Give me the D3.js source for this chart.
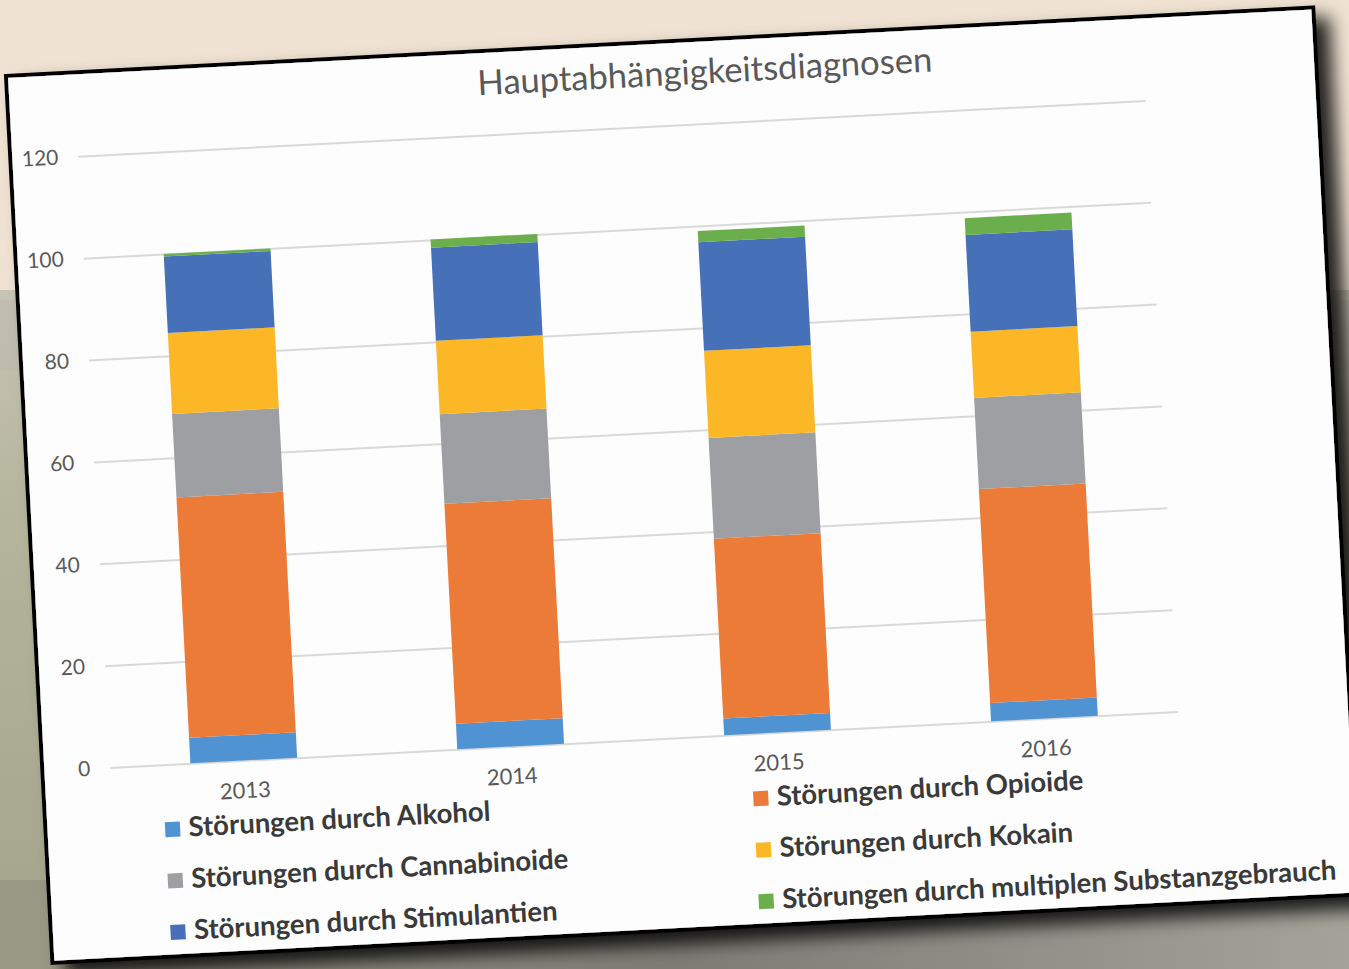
<!DOCTYPE html>
<html>
<head>
<meta charset="utf-8">
<script src="https://cdn.jsdelivr.net/npm/d3@7"></script>
<style>
  body { margin: 0; overflow: hidden; background: #efe2d2; }
</style>
</head>
<body>
<div id="chart"></div>
<script>
// data (percent of main diagnoses)
const years = ['2013', '2014', '2015', '2016'];
const alkohol      = [5.0, 5.0, 3.3, 3.6];
const opioide      = [47.2, 43.2, 35.3, 42.0];
const cannabinoide = [16.4, 17.6, 19.8, 17.9];
const kokain       = [15.9, 14.4, 17.1, 13.0];
const stimulantien = [15.0, 18.3, 21.3, 19.0];
const multipel     = [0.5, 1.6, 2.2, 3.3];
const yTicks = [0, 20, 40, 60, 80, 100, 120];

const seriesNames = [
    'Störungen durch Alkohol',
    'Störungen durch Opioide',
    'Störungen durch Cannabinoide',
    'Störungen durch Kokain',
    'Störungen durch Stimulantien',
    'Störungen durch multiplen Substanzgebrauch'
];
const seriesValues = [alkohol, opioide, cannabinoide, kokain, stimulantien, multipel];
const colors = ['#4f93d3', '#ec7b37', '#9d9fa2', '#fbb726', '#4670b8', '#6aaf4b'];

const W = 1349, H = 969;
const svg = d3.select('#chart').append('svg')
    .attr('width', W)
    .attr('height', H);

var defs = svg.append('defs');

// background photo-ish gradients
var ground = defs.append('linearGradient').attr('id', 'ground')
    .attr('x1', 0).attr('y1', 0).attr('x2', 0).attr('y2', 1);
ground.append('stop').attr('offset', '0%').attr('stop-color', '#c9c5b4');
ground.append('stop').attr('offset', '30%').attr('stop-color', '#b6b69e');
ground.append('stop').attr('offset', '100%').attr('stop-color', '#a3a38c');

var floor = defs.append('linearGradient').attr('id', 'floor')
    .attr('x1', 0).attr('y1', 0).attr('x2', 1).attr('y2', 0);
floor.append('stop').attr('offset', '0%').attr('stop-color', '#9a9a86');
floor.append('stop').attr('offset', '50%').attr('stop-color', '#7d7b74');
floor.append('stop').attr('offset', '100%').attr('stop-color', '#a4a39a');

var shadow = defs.append('filter').attr('id', 'shadow')
    .attr('x', '-5%').attr('y', '-5%').attr('width', '115%').attr('height', '115%');
shadow.append('feDropShadow')
    .attr('dx', 14).attr('dy', 12)
    .attr('stdDeviation', 9)
    .attr('flood-color', '#000')
    .attr('flood-opacity', 0.85);

svg.append('rect').attr('width', W).attr('height', H).attr('fill', '#efe2d2');
svg.append('rect').attr('y', 290).attr('width', W).attr('height', H - 290).attr('fill', 'url(#ground)');
svg.append('rect').attr('y', 300).attr('width', W).attr('height', 70).attr('fill', '#bdb9ad').attr('opacity', 0.6);
svg.append('rect').attr('y', 880).attr('width', W).attr('height', H - 880).attr('fill', 'url(#floor)');

// the card, rotated like in the photo
var card = svg.append('g').attr('transform', 'translate(6,76) rotate(-3)');

card.append('rect')
    .attr('width', 1309)
    .attr('height', 888)
    .attr('fill', '#fdfdfd')
    .attr('stroke', '#000')
    .attr('stroke-width', 4)
    .attr('filter', 'url(#shadow)');

var plot = { left: 68, right: 1137, top: 84, bottom: 696 };

var x = d3.scaleBand()
    .domain(years)
    .range([plot.left, plot.right])
    .paddingInner(0.6)
    .paddingOuter(0.3);

var y = d3.scaleLinear()
    .domain([0, 120])
    .range([plot.bottom, plot.top]);

// title
card.append('text')
    .attr('x', 698)
    .attr('y', 44)
    .attr('text-anchor', 'middle')
    .style('font-family', 'Lato, sans-serif')
    .style('font-size', '34.6px')
    .style('fill', '#595959')
    .text('Hauptabhängigkeitsdiagnosen');

// y axis with gridlines
var yAxis = card.append('g')
    .attr('transform', 'translate(' + plot.left + ',0)')
    .call(d3.axisLeft(y)
        .tickValues(yTicks)
        .tickSize(-(plot.right - plot.left))
        .tickPadding(20));
yAxis.select('.domain').remove();
yAxis.selectAll('.tick line')
    .attr('stroke', '#d9d9d9')
    .attr('stroke-width', 2);
yAxis.selectAll('.tick text')
    .style('font-family', 'Lato, sans-serif')
    .style('font-size', '21px')
    .style('fill', '#595959');

// stacked bars
var rows = years.map(function (yr, i) {
    var r = { year: yr };
    seriesNames.forEach(function (name, k) { r[name] = seriesValues[k][i]; });
    return r;
});
var stacked = d3.stack().keys(seriesNames)(rows);

card.append('g').selectAll('g')
    .data(stacked)
    .join('g')
    .attr('fill', function (d, k) { return colors[k]; })
    .selectAll('rect')
    .data(function (d) { return d; })
    .join('rect')
    .attr('x', function (d) { return x(d.data.year); })
    .attr('y', function (d) { return y(d[1]); })
    .attr('width', x.bandwidth())
    .attr('height', function (d) { return y(d[0]) - y(d[1]); });

// x axis labels
var xAxis = card.append('g')
    .attr('transform', 'translate(0,' + plot.bottom + ')')
    .call(d3.axisBottom(x).tickSize(0).tickPadding(22));
xAxis.select('.domain').remove();
xAxis.selectAll('.tick text')
    .style('font-family', 'Lato, sans-serif')
    .style('font-size', '22px')
    .style('fill', '#595959');

// legend, two columns
var legend = card.append('g').selectAll('g')
    .data(seriesNames)
    .join('g')
    .attr('transform', function (d, i) {
        return 'translate(' + (127 + (i % 2) * 589) + ',' + (761 + Math.floor(i / 2) * 51.5) + ')';
    });

legend.append('rect')
    .attr('x', -7.5)
    .attr('y', -7.5)
    .attr('width', 15)
    .attr('height', 15)
    .attr('fill', function (d, i) { return colors[i]; });

legend.append('text')
    .attr('x', 16)
    .attr('y', 8)
    .style('font-family', 'Lato, sans-serif')
    .style('font-weight', 'bold')
    .style('font-size', '27.5px')
    .style('fill', '#3a3a3a')
    .text(function (d) { return d; });
</script>
</body>
</html>
